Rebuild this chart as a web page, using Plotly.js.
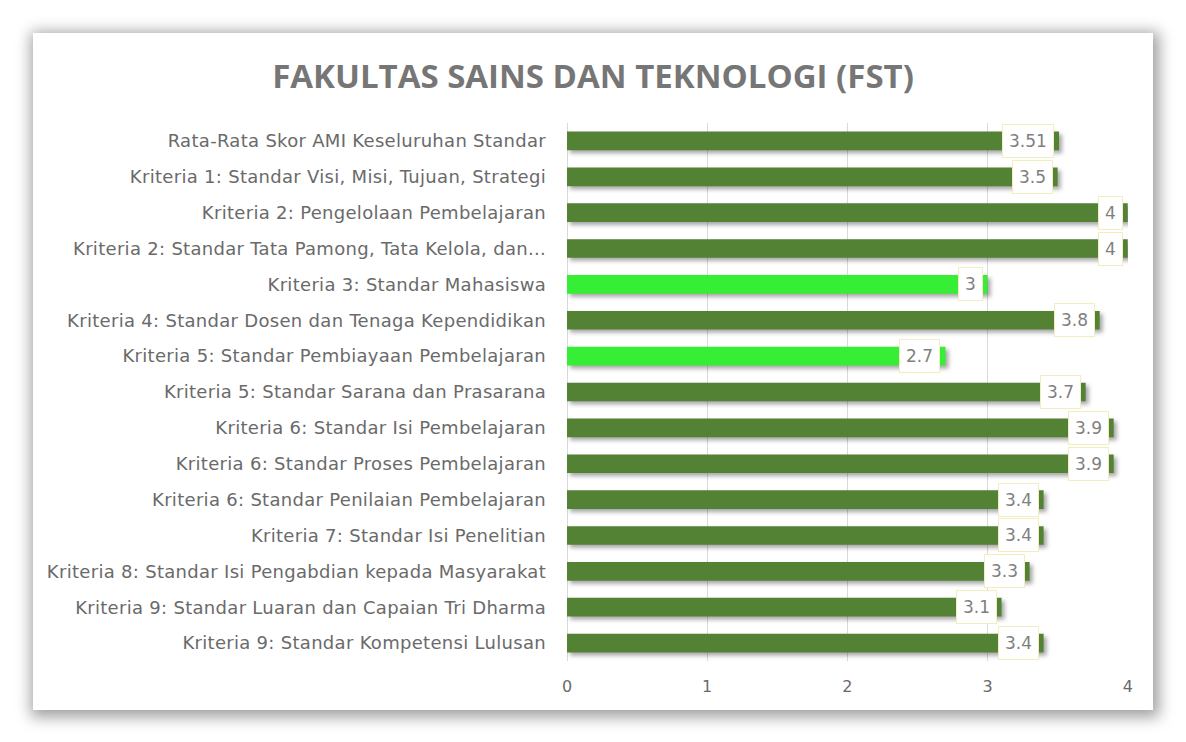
<!DOCTYPE html>
<html>
<head>
<meta charset="utf-8">
<script src="https://cdn.plot.ly/plotly-3.0.1.min.js"></script>
<style>
  html, body { margin: 0; padding: 0; background: #ffffff; }
  body { width: 1186px; height: 742px; position: relative; overflow: hidden; }
  #card {
    position: absolute; left: 33px; top: 33px; width: 1120px; height: 677px;
    background: #ffffff; box-shadow: 2px 3px 14px 4px rgba(0,0,0,0.38);
  }
  #chart { position: absolute; left: 0; top: 0; width: 1186px; height: 742px; }
  #chart .bars path { filter: drop-shadow(3px 3px 2px rgba(0,0,0,0.35)); }
  #chart .ytick text { letter-spacing: 0.3px; }
</style>
</head>
<body>
<div id="card"></div>
<div id="chart"></div>
<script>
// kategori (dari atas ke bawah)
const kriteria = [
  'Rata-Rata Skor AMI Keseluruhan Standar',
  'Kriteria 1: Standar Visi, Misi, Tujuan, Strategi',
  'Kriteria 2: Pengelolaan Pembelajaran',
  'Kriteria 2: Standar Tata Pamong, Tata Kelola, dan...',
  'Kriteria 3: Standar Mahasiswa',
  'Kriteria 4: Standar Dosen dan Tenaga Kependidikan',
  'Kriteria 5: Standar Pembiayaan Pembelajaran',
  'Kriteria 5: Standar Sarana dan Prasarana',
  'Kriteria 6: Standar Isi Pembelajaran',
  'Kriteria 6: Standar Proses Pembelajaran',
  'Kriteria 6: Standar Penilaian Pembelajaran',
  'Kriteria 7: Standar Isi Penelitian',
  'Kriteria 8: Standar Isi Pengabdian kepada Masyarakat',
  'Kriteria 9: Standar Luaran dan Capaian Tri Dharma',
  'Kriteria 9: Standar Kompetensi Lulusan'
];
const skor = [3.51, 3.5, 4, 4, 3, 3.8, 2.7, 3.7, 3.9, 3.9, 3.4, 3.4, 3.3, 3.1, 3.4];
const xTicks = [0, 1, 2, 3, 4];

const hijauTua = '#548235';
const hijauTerang = '#35EE35';
const warna = skor.map(v => v <= 3 ? hijauTerang : hijauTua);

const trace = {
  type: 'bar',
  orientation: 'h',
  x: skor,
  y: kriteria,
  marker: { color: warna },
  hoverinfo: 'x+y'
};

// label nilai di ujung batang
const labels = skor.map((v, i) => ({
  x: v,
  y: kriteria[i],
  xref: 'x',
  yref: 'y',
  text: String(v),
  showarrow: false,
  xanchor: 'right',
  xshift: -5,
  font: { family: 'DejaVu Sans, sans-serif', size: 17, color: '#7f7f7f' },
  bgcolor: '#ffffff',
  bordercolor: '#f3eec0',
  borderwidth: 1,
  borderpad: 6
}));

const layout = {
  width: 1186,
  height: 742,
  paper_bgcolor: 'rgba(0,0,0,0)',
  plot_bgcolor: 'rgba(0,0,0,0)',
  margin: { l: 567, r: 58, t: 123, b: 81 },
  showlegend: false,
  bargap: 0.48,
  title: {
    text: '<b>FAKULTAS SAINS DAN TEKNOLOGI (FST)</b>',
    x: 0.5,
    xref: 'container',
    xanchor: 'center',
    y: 0.897,
    yref: 'container',
    yanchor: 'middle',
    font: { family: 'Open Sans, sans-serif', size: 33, color: '#767676' }
  },
  xaxis: {
    range: [0, 4.002],
    tickvals: xTicks,
    ticktext: xTicks.map(String),
    showgrid: true,
    gridcolor: '#d9d9d9',
    gridwidth: 1.2,
    zeroline: true,
    zerolinecolor: '#d9d9d9',
    showline: false,
    ticks: '',
    ticklabelstandoff: 14,
    tickfont: { family: 'DejaVu Sans, sans-serif', size: 16, color: '#6a6a6a' },
    fixedrange: true
  },
  yaxis: {
    autorange: 'reversed',
    type: 'category',
    showgrid: false,
    zeroline: false,
    showline: false,
    ticks: '',
    ticklabelstandoff: 20,
    tickfont: { family: 'DejaVu Sans, sans-serif', size: 18, color: '#6a6a6a' },
    fixedrange: true
  },
  annotations: labels
};

Plotly.newPlot('chart', [trace], layout, { displayModeBar: false, staticPlot: true });
</script>
</body>
</html>
